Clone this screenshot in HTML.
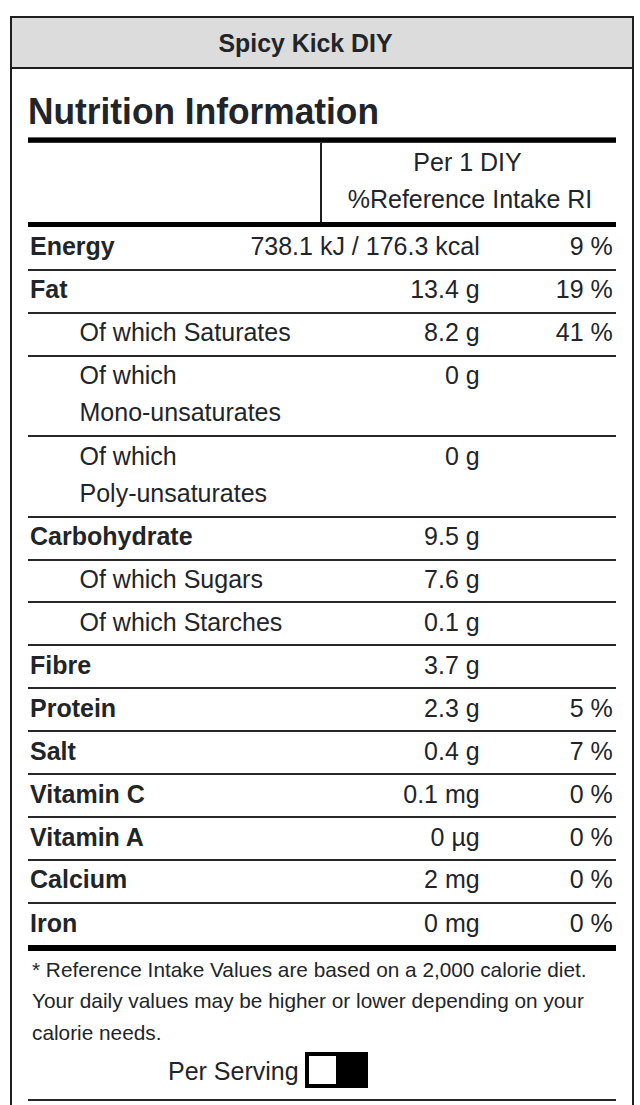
<!DOCTYPE html>
<html>
<head>
<meta charset="utf-8">
<style>
html,body{margin:0;padding:0;background:#fff;width:640px;height:1105px;overflow:hidden;}
.wrap{position:absolute;left:0;top:0;width:640px;height:1105px;overflow:hidden;}
body{font-family:"Liberation Sans",sans-serif;color:#212529;position:relative;}
.box{position:absolute;left:10px;top:16px;width:620px;height:1200px;border:2px solid #1e1e1e;border-bottom:none;}
.hdr{position:absolute;left:12px;top:18px;width:620px;height:49px;background:#dcdcdc;border-bottom:2px solid #1e1e1e;}
.hdr span{position:absolute;left:206.5px;top:1px;font-weight:bold;font-size:24.85px;line-height:49px;white-space:nowrap;}
.title{position:absolute;left:28px;top:92px;font-weight:bold;font-size:35.3px;line-height:40px;white-space:nowrap;transform:scaleY(1.06);transform-origin:0 32px;}
.thick{position:absolute;left:28px;width:587.6px;background:#000;}
.thin{position:absolute;left:28px;width:587.6px;height:2px;background:#282828;}
.vd{position:absolute;left:320px;width:2px;background:#1e1e1e;}
.t{position:absolute;font-size:25px;line-height:37.5px;white-space:nowrap;}
.b{font-weight:bold;}
.r{text-align:right;}
.foot{position:absolute;left:32px;font-size:20.8px;line-height:31.2px;white-space:nowrap;}
.tog{position:absolute;left:305px;top:1052px;width:63px;height:36px;background:#000;}
.tog i{position:absolute;left:4px;top:4px;width:27px;height:28px;background:#fff;}
</style>
</head>
<body>
<div class="wrap">
<div class="box"></div>
<div class="hdr"><span>Spicy Kick DIY</span></div>
<div class="title">Nutrition Information</div>
<div class="thick" style="top:137px;height:6px;background:linear-gradient(#666 0 1px,#000 1px 5px,#333 5px)"></div>
<div class="vd" style="top:143px;height:79px"></div>
<div class="t" style="left:321px;width:293px;text-align:center;top:144px">Per 1 DIY</div>
<div class="t" style="left:323.5px;width:293px;text-align:center;top:181px">%Reference Intake RI</div>
<div class="thick" style="top:222px;height:5px"></div>
<div class="t b" style="left:30px;top:228.4px">Energy</div>
<div class="t r" style="right:160.3px;top:228.4px">738.1 kJ / 176.3 kcal</div>
<div class="t r" style="right:27.2px;top:228.4px">9 %</div>
<div class="thin" style="top:269px"></div>
<div class="t b" style="left:30px;top:270.5px">Fat</div>
<div class="t r" style="right:160.3px;top:270.5px">13.4 g</div>
<div class="t r" style="right:27.2px;top:270.5px">19 %</div>
<div class="thin" style="top:312px"></div>
<div class="t" style="left:79.5px;top:313.5px">Of which Saturates</div>
<div class="t r" style="right:160.3px;top:313.5px">8.2 g</div>
<div class="t r" style="right:27.2px;top:313.5px">41 %</div>
<div class="thin" style="top:355px"></div>
<div class="t" style="left:79.5px;top:356.5px">Of which<br>Mono-unsaturates</div>
<div class="t r" style="right:160.3px;top:356.5px">0 g</div>
<div class="thin" style="top:435px"></div>
<div class="t" style="left:79.5px;top:437.5px">Of which<br>Poly-unsaturates</div>
<div class="t r" style="right:160.3px;top:437.5px">0 g</div>
<div class="thin" style="top:515.5px"></div>
<div class="t b" style="left:30px;top:518.0px">Carbohydrate</div>
<div class="t r" style="right:160.3px;top:518.0px">9.5 g</div>
<div class="thin" style="top:558.5px"></div>
<div class="t" style="left:79.5px;top:561.0px">Of which Sugars</div>
<div class="t r" style="right:160.3px;top:561.0px">7.6 g</div>
<div class="thin" style="top:601px"></div>
<div class="t" style="left:79.5px;top:603.5px">Of which Starches</div>
<div class="t r" style="right:160.3px;top:603.5px">0.1 g</div>
<div class="thin" style="top:644px"></div>
<div class="t b" style="left:30px;top:646.5px">Fibre</div>
<div class="t r" style="right:160.3px;top:646.5px">3.7 g</div>
<div class="thin" style="top:687px"></div>
<div class="t b" style="left:30px;top:689.5px">Protein</div>
<div class="t r" style="right:160.3px;top:689.5px">2.3 g</div>
<div class="t r" style="right:27.2px;top:689.5px">5 %</div>
<div class="thin" style="top:730px"></div>
<div class="t b" style="left:30px;top:732.5px">Salt</div>
<div class="t r" style="right:160.3px;top:732.5px">0.4 g</div>
<div class="t r" style="right:27.2px;top:732.5px">7 %</div>
<div class="thin" style="top:773px"></div>
<div class="t b" style="left:30px;top:775.5px">Vitamin C</div>
<div class="t r" style="right:160.3px;top:775.5px">0.1 mg</div>
<div class="t r" style="right:27.2px;top:775.5px">0 %</div>
<div class="thin" style="top:816px"></div>
<div class="t b" style="left:30px;top:818.5px">Vitamin A</div>
<div class="t r" style="right:160.3px;top:818.5px">0 µg</div>
<div class="t r" style="right:27.2px;top:818.5px">0 %</div>
<div class="thin" style="top:858.5px"></div>
<div class="t b" style="left:30px;top:861.0px">Calcium</div>
<div class="t r" style="right:160.3px;top:861.0px">2 mg</div>
<div class="t r" style="right:27.2px;top:861.0px">0 %</div>
<div class="thin" style="top:902px"></div>
<div class="t b" style="left:30px;top:904.5px">Iron</div>
<div class="t r" style="right:160.3px;top:904.5px">0 mg</div>
<div class="t r" style="right:27.2px;top:904.5px">0 %</div>
<div class="thick" style="top:945px;height:6px"></div>
<div class="foot" style="top:954.2px">* Reference Intake Values are based on a 2,000 calorie diet.<br>Your daily values may be higher or lower depending on your<br>calorie needs.</div>
<div class="t" style="left:168px;top:1053px">Per Serving</div>
<div class="tog"><i></i></div>
<div class="thin" style="top:1099px"></div>
</div>
</body>
</html>
